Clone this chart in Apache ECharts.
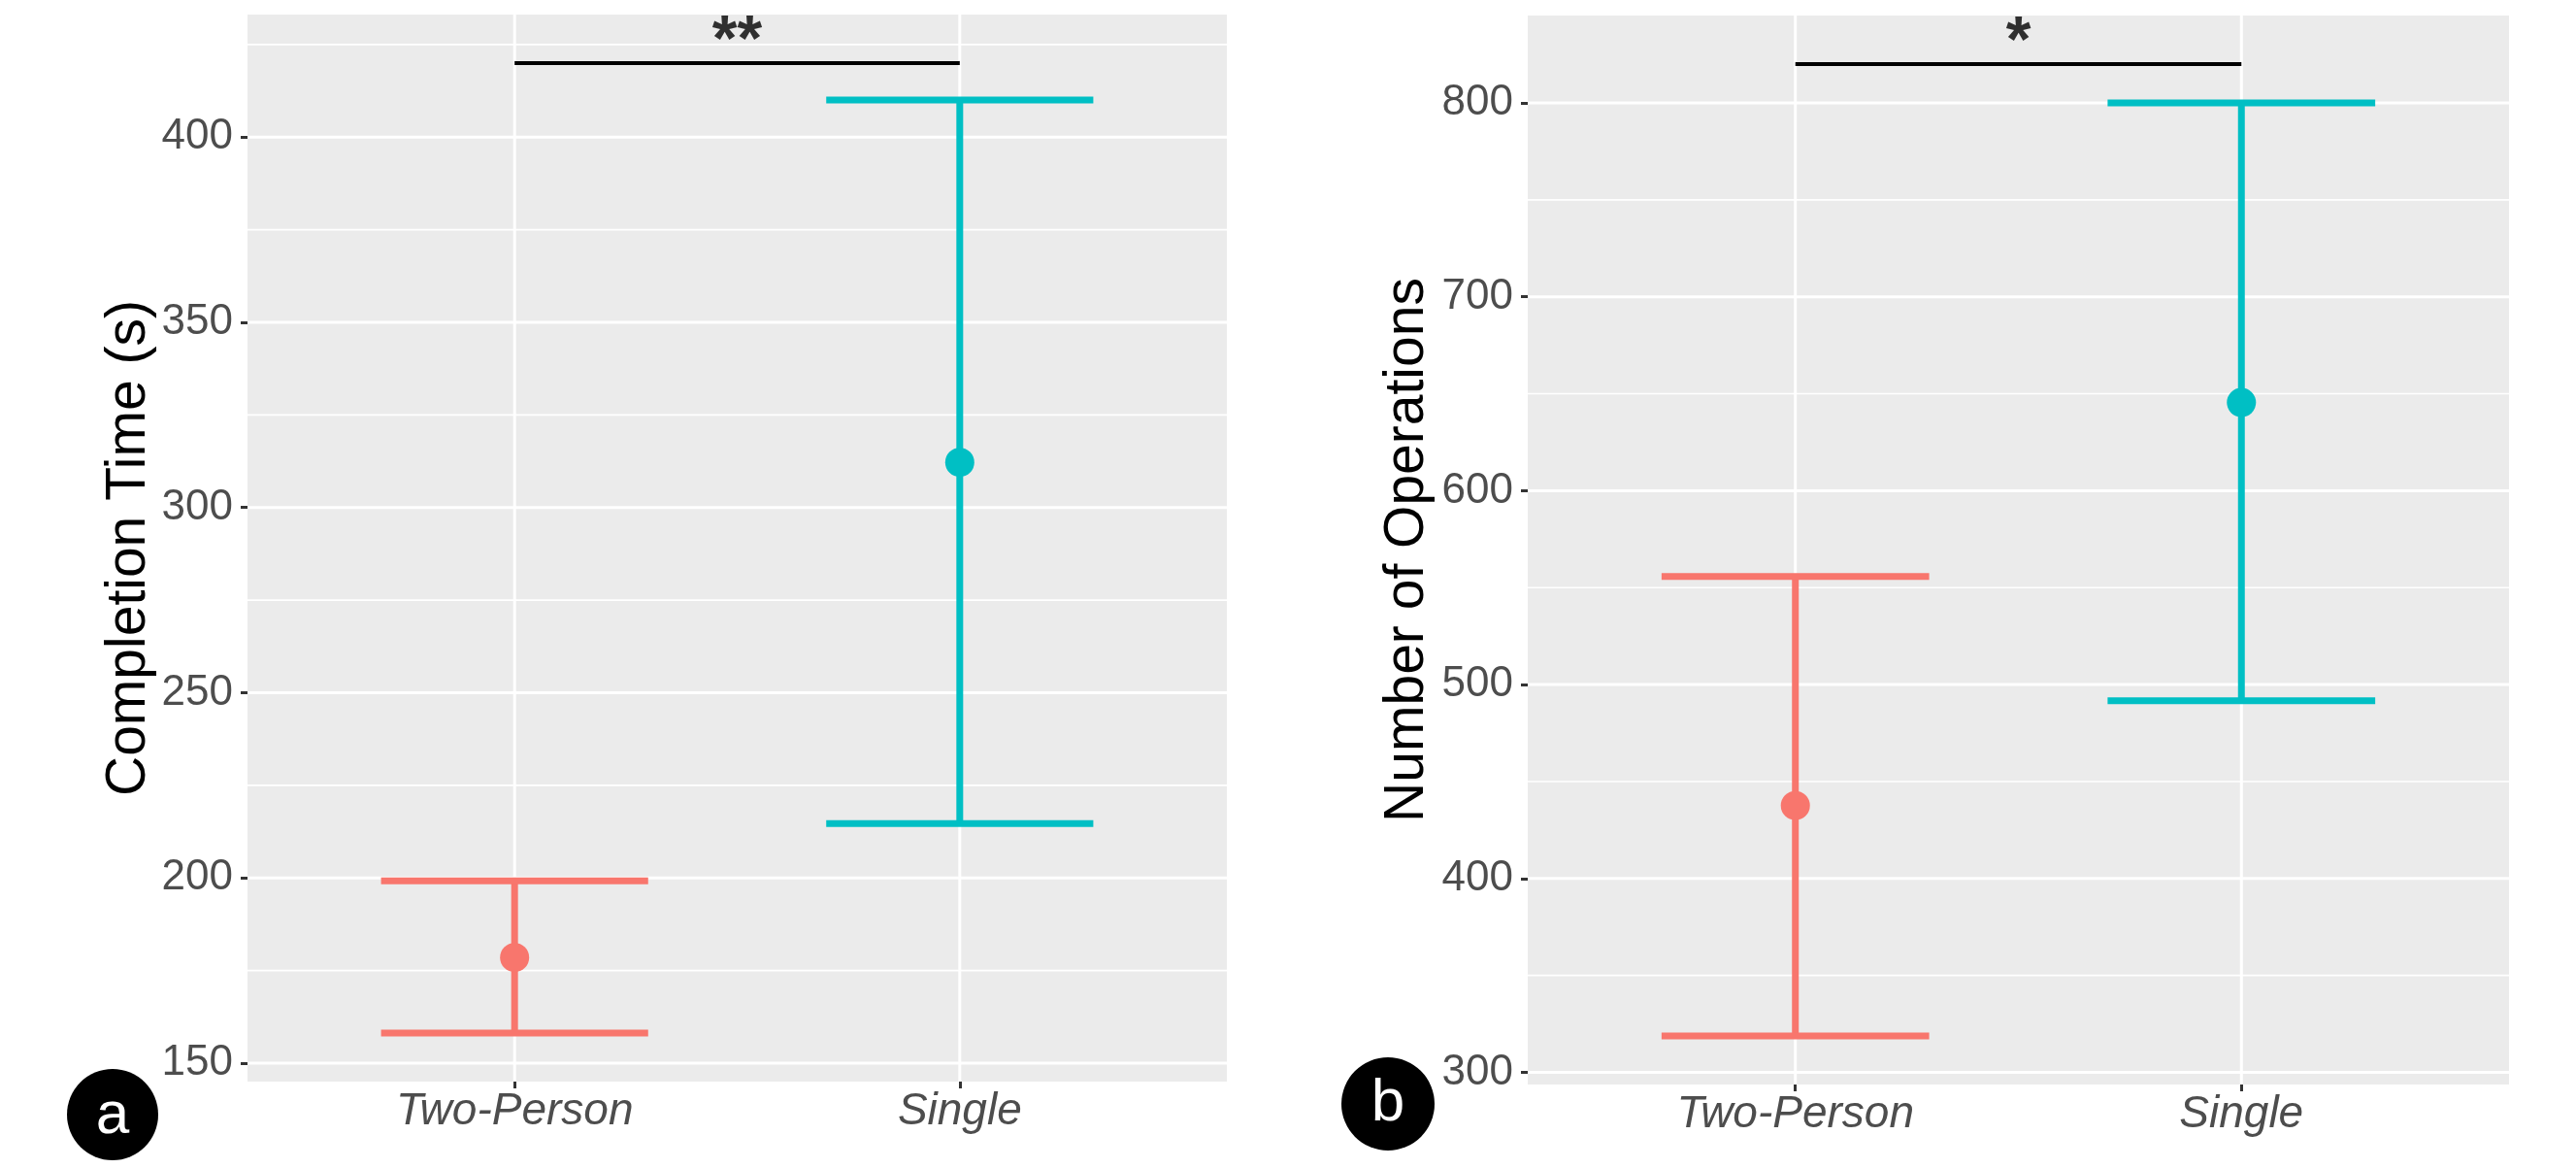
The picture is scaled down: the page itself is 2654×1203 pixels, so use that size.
<!DOCTYPE html>
<html>
<head>
<meta charset="utf-8">
<title>Completion time and number of operations</title>
<script src="https://cdn.jsdelivr.net/npm/echarts@6/dist/echarts.min.js"></script>
<style>
  html, body { margin: 0; padding: 0; background: #fff; }
  #main { width: 2654px; height: 1203px; }
</style>
</head>
<body>
<div id="main"></div>
<script>
const groups = ['Two-Person', 'Single'];
const groupColors = ['#F8766D', '#00BFC4'];

// panel a: completion time (s)
const timeMean = [178.5, 312.2];
const timeLow = [158.1, 214.7];
const timeHigh = [199.2, 410.0];
const timeTicks = [150, 200, 250, 300, 350, 400];
const timeMinor = [175, 225, 275, 325, 375, 425];
const timeSig = { y: 420, label: '**' };

// panel b: number of operations
const opsMean = [437.6, 645.5];
const opsLow = [318.8, 491.6];
const opsHigh = [555.8, 800.0];
const opsTicks = [300, 400, 500, 600, 700, 800];
const opsMinor = [350, 450, 550, 650, 750];
const opsSig = { y: 820, label: '*' };

const FONT = 'Liberation Sans, Arial, Helvetica, sans-serif';
const X_MIN = 0.4, X_MAX = 2.6;   // ggplot discrete expansion
const CAP = 0.6;                  // errorbar width in x units

// ggplot style 5% expansion of the y range
function yRange(low, sig) {
  const lo = Math.min(...low), hi = sig.y;
  const pad = (hi - lo) * 0.05;
  return [lo - pad, hi + pad];
}

function lineEl(x1, y1, x2, y2, stroke, w) {
  return { type: 'line', shape: { x1, y1, x2, y2 }, style: { stroke, lineWidth: w } };
}

// white grid lines, drawn through the axis scale
function hGrid(gi, values, w) {
  return {
    type: 'custom', xAxisIndex: gi, yAxisIndex: gi, silent: true, z: 1,
    data: values.map(v => [1.5, v]),
    renderItem: (params, api) => {
      const a = api.coord([X_MIN, api.value(1)]);
      const b = api.coord([X_MAX, api.value(1)]);
      return lineEl(a[0], a[1], b[0], b[1], '#FFFFFF', w);
    }
  };
}

function vGrid(gi, range) {
  return {
    type: 'custom', xAxisIndex: gi, yAxisIndex: gi, silent: true, z: 1,
    data: groups.map((g, i) => [i + 1, range[0]]),
    renderItem: (params, api) => {
      const a = api.coord([api.value(0), range[0]]);
      const b = api.coord([api.value(0), range[1]]);
      return lineEl(a[0], a[1], b[0], b[1], '#FFFFFF', 3);
    }
  };
}

function errorBars(gi, low, high) {
  return {
    type: 'custom', xAxisIndex: gi, yAxisIndex: gi, silent: true, z: 3,
    data: groups.map((g, i) => [i + 1, low[i], high[i]]),
    encode: { x: 0, y: [1, 2] },
    renderItem: (params, api) => {
      const x = api.value(0);
      const lo = api.coord([x, api.value(1)]);
      const hi = api.coord([x, api.value(2)]);
      const half = api.size([CAP / 2, 0])[0];
      const c = groupColors[params.dataIndex];
      return {
        type: 'group',
        children: [
          lineEl(lo[0], lo[1], hi[0], hi[1], c, 7),
          lineEl(hi[0] - half, hi[1], hi[0] + half, hi[1], c, 7),
          lineEl(lo[0] - half, lo[1], lo[0] + half, lo[1], c, 7)
        ]
      };
    }
  };
}

function points(gi, mean) {
  return {
    type: 'scatter', xAxisIndex: gi, yAxisIndex: gi, silent: true, z: 4,
    symbolSize: 30,
    data: groups.map((g, i) => ({ value: [i + 1, mean[i]], itemStyle: { color: groupColors[i], opacity: 1 } }))
  };
}

function signif(gi, sig) {
  return [
    {
      type: 'line', xAxisIndex: gi, yAxisIndex: gi, silent: true, z: 5,
      symbol: 'none',
      lineStyle: { color: '#000', width: 4 },
      data: [[1, sig.y], [2, sig.y]]
    },
    {
      type: 'scatter', xAxisIndex: gi, yAxisIndex: gi, silent: true, z: 5,
      symbolSize: 1,
      itemStyle: { color: 'rgba(0,0,0,0)' },
      label: {
        show: true, position: 'top', distance: 0, offset: [0, 12],
        formatter: sig.label,
        fontFamily: FONT, fontSize: 66, fontWeight: 'bold', color: '#000'
      },
      data: [[1.5, sig.y]]
    }
  ];
}

function xAxis(gi) {
  return {
    type: 'value', gridIndex: gi, min: X_MIN, max: X_MAX,
    axisLine: { show: false },
    axisTick: { show: true, customValues: [1, 2], length: 7, lineStyle: { color: '#333333', width: 3 } },
    axisLabel: {
      customValues: [1, 2], margin: 8,
      formatter: v => groups[Math.round(v) - 1],
      fontFamily: FONT, fontSize: 46, fontStyle: 'italic', color: '#4D4D4D'
    },
    splitLine: { show: false }
  };
}

function yAxis(gi, range, ticks, title, gap) {
  return {
    type: 'value', gridIndex: gi, min: range[0], max: range[1],
    name: title, nameLocation: 'middle', nameGap: gap,
    nameTextStyle: { fontFamily: FONT, fontSize: 57, color: '#000000' },
    axisLine: { show: false },
    axisTick: { show: true, customValues: ticks, length: 7, lineStyle: { color: '#333333', width: 3 } },
    axisLabel: { customValues: ticks, margin: 15, fontFamily: FONT, fontSize: 44, color: '#4D4D4D' },
    splitLine: { show: false }
  };
}

const timeRange = yRange(timeLow, timeSig);
const opsRange = yRange(opsLow, opsSig);

const option = {
  backgroundColor: '#FFFFFF',
  animation: false,
  grid: [
    { left: 255, top: 15, width: 1009, height: 1099, show: true, backgroundColor: '#EBEBEB', borderWidth: 0 },
    { left: 1574, top: 16, width: 1011, height: 1101, show: true, backgroundColor: '#EBEBEB', borderWidth: 0 }
  ],
  xAxis: [xAxis(0), xAxis(1)],
  yAxis: [
    yAxis(0, timeRange, timeTicks, 'Completion Time (s)', 93),
    yAxis(1, opsRange, opsTicks, 'Number of Operations', 95)
  ],
  series: [
    hGrid(0, timeMinor, 1.6), hGrid(0, timeTicks, 3), vGrid(0, timeRange),
    errorBars(0, timeLow, timeHigh), points(0, timeMean), ...signif(0, timeSig),
    hGrid(1, opsMinor, 1.6), hGrid(1, opsTicks, 3), vGrid(1, opsRange),
    errorBars(1, opsLow, opsHigh), points(1, opsMean), ...signif(1, opsSig)
  ],
  graphic: [
    { type: 'circle', shape: { cx: 116, cy: 1148, r: 47 }, style: { fill: '#000' } },
    { type: 'text', x: 116, y: 1150, style: { text: 'a', fill: '#fff', font: '62px ' + FONT, align: 'center', verticalAlign: 'middle' } },
    { type: 'circle', shape: { cx: 1430, cy: 1137, r: 48 }, style: { fill: '#000' } },
    { type: 'text', x: 1430, y: 1137, style: { text: 'b', fill: '#fff', font: '62px ' + FONT, align: 'center', verticalAlign: 'middle' } }
  ]
};

const chart = echarts.init(document.getElementById('main'));
chart.setOption(option);
window.addEventListener('resize', () => chart.resize());
</script>
</body>
</html>
